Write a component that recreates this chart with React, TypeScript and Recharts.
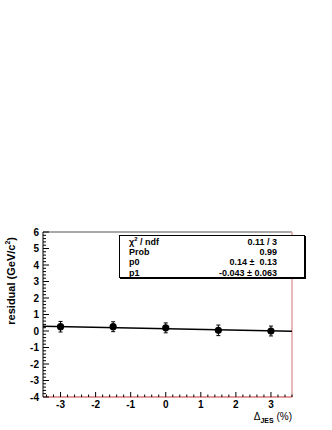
import React from "react";
import {
  ComposedChart,
  XAxis,
  YAxis,
  Scatter,
  Line,
  ErrorBar,
  ReferenceLine,
} from "recharts";

// measured points (JES shift in %, residual in GeV/c^2)
const jesShift = [-3, -1.5, 0, 1.5, 3];
const residual = [0.26, 0.26, 0.19, 0.04, 0.0];
const residualErr = [0.32, 0.3, 0.3, 0.32, 0.3];

// fitted straight line, read at the frame edges
const fitX = [-3.5, 3.6];
const fitY = [0.29, -0.015];

// stats box
const statNames = ["χ² / ndf", "Prob", "p0", "p1"];
const statValues = ["0.11 / 3", "0.99", "0.14 ±  0.13", "-0.043 ± 0.063"];

const xMajor = [-3, -2, -1, 0, 1, 2, 3];
const yMajor = [-4, -3, -2, -1, 0, 1, 2, 3, 4, 5, 6];

const X_DOMAIN = [-3.5, 3.6];
const Y_DOMAIN = [-4, 6];

const FONT = "'Liberation Sans', Arial, sans-serif";

const points = jesShift.map((x, i) => ({
  x,
  y: residual[i],
  err: residualErr[i],
}));
const fit = fitX.map((x, i) => ({ x, y: fitY[i] }));

// minor ticks every 0.2
const makeTicks = (lo, hi) => {
  const out = [];
  for (let v = Math.ceil(lo * 5); v <= Math.floor(hi * 5); v++) {
    out.push(Math.round(v * 2) / 10);
  }
  return out;
};
const isMajor = (v, majors) => majors.some((m) => Math.abs(m - v) < 1e-6);

const XTick = (props) => {
  const { x, y, payload } = props;
  const major = isMajor(payload.value, xMajor);
  return (
    <g>
      <line x1={x} x2={x} y1={y} y2={y - (major ? 5 : 2.5)} stroke="#000" />
      {major && (
        <text
          x={x}
          y={y + 11}
          textAnchor="middle"
          fontSize={10}
          fontWeight="bold"
          fontFamily={FONT}
          fill="#000"
        >
          {payload.value}
        </text>
      )}
    </g>
  );
};

const YTick = (props) => {
  const { x, y, payload } = props;
  const major = isMajor(payload.value, yMajor);
  return (
    <g>
      <line x1={x} x2={x + (major ? 6 : 3)} y1={y} y2={y} stroke="#000" />
      {major && (
        <text
          x={x - 4}
          y={y + 3.5}
          textAnchor="end"
          fontSize={10}
          fontWeight="bold"
          fontFamily={FONT}
          fill="#000"
        >
          {payload.value}
        </text>
      )}
    </g>
  );
};

const Dot = (props) => {
  const { cx, cy } = props;
  return <circle cx={cx} cy={cy} r={3.6} fill="#000" />;
};

export default function App() {
  return (
    <div
      style={{
        position: "absolute",
        left: 0,
        top: 0,
        width: 332,
        height: 430,
        background: "#fff",
        fontFamily: FONT,
      }}
    >
      <ComposedChart
        width={332}
        height={430}
        margin={{ top: 232, right: 40, left: 33, bottom: 23 }}
      >
        <XAxis
          dataKey="x"
          type="number"
          domain={X_DOMAIN}
          ticks={makeTicks(X_DOMAIN[0], X_DOMAIN[1])}
          interval={0}
          allowDataOverflow
          height={10}
          tickSize={0}
          tickMargin={0}
          tickLine={false}
          axisLine={{ stroke: "#d77a7a", strokeWidth: 1.5 }}
          tick={XTick}
        />
        <YAxis
          dataKey="y"
          type="number"
          domain={Y_DOMAIN}
          ticks={makeTicks(Y_DOMAIN[0], Y_DOMAIN[1])}
          interval={0}
          allowDataOverflow
          width={10}
          tickSize={0}
          tickMargin={0}
          tickLine={false}
          axisLine={{ stroke: "#000" }}
          tick={YTick}
        />
        <ReferenceLine y={Y_DOMAIN[1]} stroke="#555" />
        <ReferenceLine x={X_DOMAIN[1]} stroke="#e0a0a0" strokeWidth={1.5} />
        <Line
          data={fit}
          dataKey="y"
          type="linear"
          stroke="#000"
          strokeWidth={1.5}
          dot={false}
          activeDot={false}
          isAnimationActive={false}
        />
        <Scatter data={points} dataKey="y" shape={Dot} isAnimationActive={false}>
          <ErrorBar
            dataKey="err"
            direction="y"
            width={2}
            stroke="#000"
            strokeWidth={1}
          />
        </Scatter>
      </ComposedChart>

      {/* stats box */}
      <div
        style={{
          position: "absolute",
          left: 119,
          top: 235,
          width: 166,
          height: 40,
          border: "1px solid #000",
          boxShadow: "1px 1px 0 #000",
          background: "#fff",
          padding: "0.5px 9px 0 9px",
          boxSizing: "content-box",
          fontSize: 9,
          fontWeight: "bold",
          lineHeight: "10.4px",
        }}
      >
        {statNames.map((n, i) => (
          <div
            key={n}
            style={{ display: "flex", justifyContent: "space-between", width: 148 }}
          >
            <span>
              {n === "χ² / ndf" ? (
                <>
                  χ<sup style={{ fontSize: 6, lineHeight: 0 }}>2</sup> / ndf
                </>
              ) : (
                n
              )}
            </span>
            <span style={{ whiteSpace: "pre" }}>{statValues[i]}</span>
          </div>
        ))}
      </div>

      {/* x axis title */}
      <div
        style={{
          position: "absolute",
          left: 180,
          top: 411,
          width: 112,
          textAlign: "right",
          fontSize: 10,
          whiteSpace: "nowrap",
        }}
      >
        Δ<sub style={{ fontSize: 7, fontWeight: "bold" }}>JES</sub> (%)
      </div>

      {/* y axis title */}
      <div
        style={{
          position: "absolute",
          left: 4,
          top: 237 + 130,
          width: 130,
          textAlign: "right",
          transformOrigin: "0 0",
          transform: "rotate(-90deg)",
          fontSize: 11,
          fontWeight: "bold",
          lineHeight: "14px",
          whiteSpace: "nowrap",
        }}
      >
        residual (GeV/c<sup style={{ fontSize: 7, lineHeight: 0 }}>2</sup>)
      </div>
    </div>
  );
}
